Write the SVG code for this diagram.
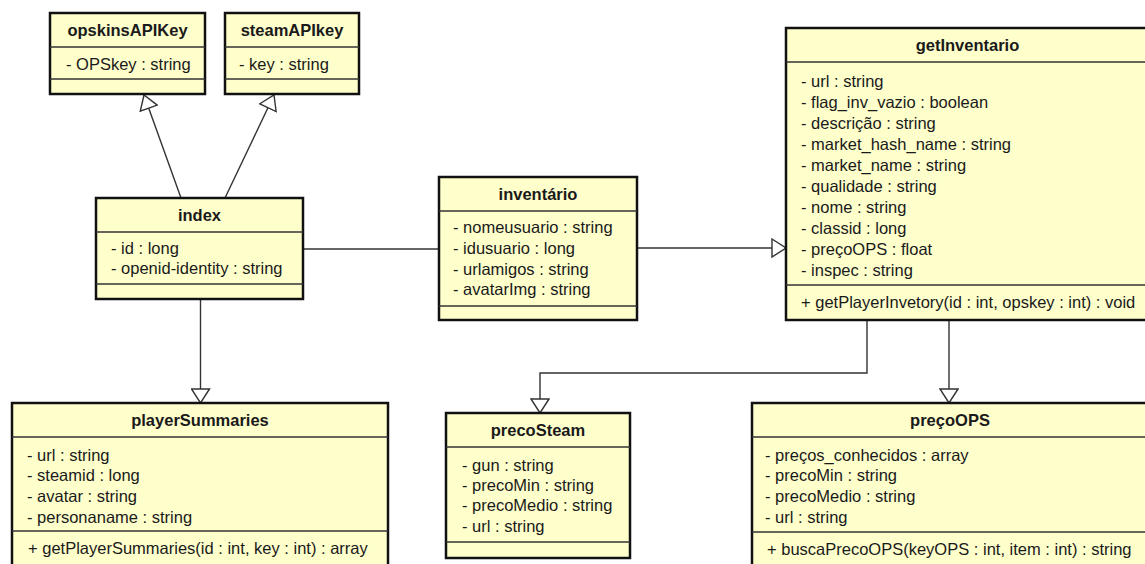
<svg xmlns="http://www.w3.org/2000/svg" width="1145" height="564" viewBox="0 0 1145 564">
<style>
.box{fill:#FFFFCC;stroke:#111;stroke-width:2.5}
.sep{stroke:#333;stroke-width:1.5;fill:none}
.t{font-family:"Liberation Sans",Arial,sans-serif;font-size:16.5px;fill:#1a1a1a}
.b{font-weight:bold;text-anchor:middle}
.c{fill:none;stroke:#333;stroke-width:1.4}
</style>
<defs>
<marker id="tri" viewBox="0 0 16 20" markerWidth="16" markerHeight="20" refX="15" refY="10" orient="auto" markerUnits="userSpaceOnUse">
<path d="M1,1 L15,10 L1,19 Z" fill="#fff" stroke="#333" stroke-width="1.4"/>
</marker>
</defs>
<rect width="1145" height="564" fill="#fff"/>

<g id="connectors">
<path class="c" d="M181,198 L144,95" marker-end="url(#tri)"/>
<path class="c" d="M225,198 L274,95" marker-end="url(#tri)"/>
<path class="c" d="M303,249 H439"/>
<path class="c" d="M637,248 H786" marker-end="url(#tri)"/>
<path class="c" d="M200.5,299 V403" marker-end="url(#tri)"/>
<path class="c" d="M867,320 V373 H540 V413" marker-end="url(#tri)"/>
<path class="c" d="M949,320 V403" marker-end="url(#tri)"/>
</g>

<g id="opskinsAPIKey">
<rect class="box" x="50" y="13" width="155" height="81"/>
<path class="sep" d="M50,47 H205 M50,79 H205"/>
<text class="t b" x="127.5" y="36">opskinsAPIKey</text>
<text class="t" x="66" y="70">- OPSkey : string</text>
</g>

<g id="steamAPIkey">
<rect class="box" x="225" y="13" width="134" height="81"/>
<path class="sep" d="M225,47 H359 M225,79 H359"/>
<text class="t b" x="292" y="36">steamAPIkey</text>
<text class="t" x="239" y="70">- key : string</text>
</g>

<g id="index">
<rect class="box" x="96" y="198" width="207" height="101"/>
<path class="sep" d="M96,232 H303 M96,284 H303"/>
<text class="t b" x="199.5" y="221">index</text>
<text class="t" x="111" y="254">- id : long</text>
<text class="t" x="111" y="274">- openid-identity : string</text>
</g>

<g id="inventario">
<rect class="box" x="439" y="177" width="198" height="143"/>
<path class="sep" d="M439,211 H637 M439,306 H637"/>
<text class="t b" x="538" y="200">inventário</text>
<text class="t" x="453" y="233">- nomeusuario : string</text>
<text class="t" x="453" y="254">- idusuario : long</text>
<text class="t" x="453" y="275">- urlamigos : string</text>
<text class="t" x="453" y="295">- avatarImg : string</text>
</g>

<g id="getInventario">
<rect class="box" x="786" y="28" width="363" height="292"/>
<path class="sep" d="M786,62 H1149 M786,285 H1149"/>
<text class="t b" x="967.5" y="51">getInventario</text>
<text class="t" x="801" y="87">- url : string</text>
<text class="t" x="801" y="108">- flag_inv_vazio : boolean</text>
<text class="t" x="801" y="129">- descrição : string</text>
<text class="t" x="801" y="150">- market_hash_name : string</text>
<text class="t" x="801" y="171">- market_name : string</text>
<text class="t" x="801" y="192">- qualidade : string</text>
<text class="t" x="801" y="213">- nome : string</text>
<text class="t" x="801" y="234">- classid : long</text>
<text class="t" x="801" y="255">- preçoOPS : float</text>
<text class="t" x="801" y="276">- inspec : string</text>
<text class="t" x="801" y="308">+ getPlayerInvetory(id : int, opskey : int) : void</text>
</g>

<g id="playerSummaries">
<rect class="box" x="12" y="403" width="376" height="172"/>
<path class="sep" d="M12,437 H388 M12,531 H388"/>
<text class="t b" x="200" y="426">playerSummaries</text>
<text class="t" x="27" y="461">- url : string</text>
<text class="t" x="27" y="481">- steamid : long</text>
<text class="t" x="27" y="502">- avatar : string</text>
<text class="t" x="27" y="523">- personaname : string</text>
<text class="t" x="28" y="554">+ getPlayerSummaries(id : int, key : int) : array</text>
</g>

<g id="precoSteam">
<rect class="box" x="446" y="413" width="184" height="145"/>
<path class="sep" d="M446,447 H630 M446,542 H630"/>
<text class="t b" x="538" y="436">precoSteam</text>
<text class="t" x="462" y="471">- gun : string</text>
<text class="t" x="462" y="491">- precoMin : string</text>
<text class="t" x="462" y="511">- precoMedio : string</text>
<text class="t" x="462" y="532">- url : string</text>
</g>

<g id="precoOPS">
<rect class="box" x="752" y="403" width="397" height="172"/>
<path class="sep" d="M752,437 H1149 M752,532 H1149"/>
<text class="t b" x="950" y="426">preçoOPS</text>
<text class="t" x="765" y="461">- preços_conhecidos : array</text>
<text class="t" x="765" y="481">- precoMin : string</text>
<text class="t" x="765" y="502">- precoMedio : string</text>
<text class="t" x="765" y="523">- url : string</text>
<text class="t" x="767" y="555">+ buscaPrecoOPS(keyOPS : int, item : int) : string</text>
</g>
</svg>
